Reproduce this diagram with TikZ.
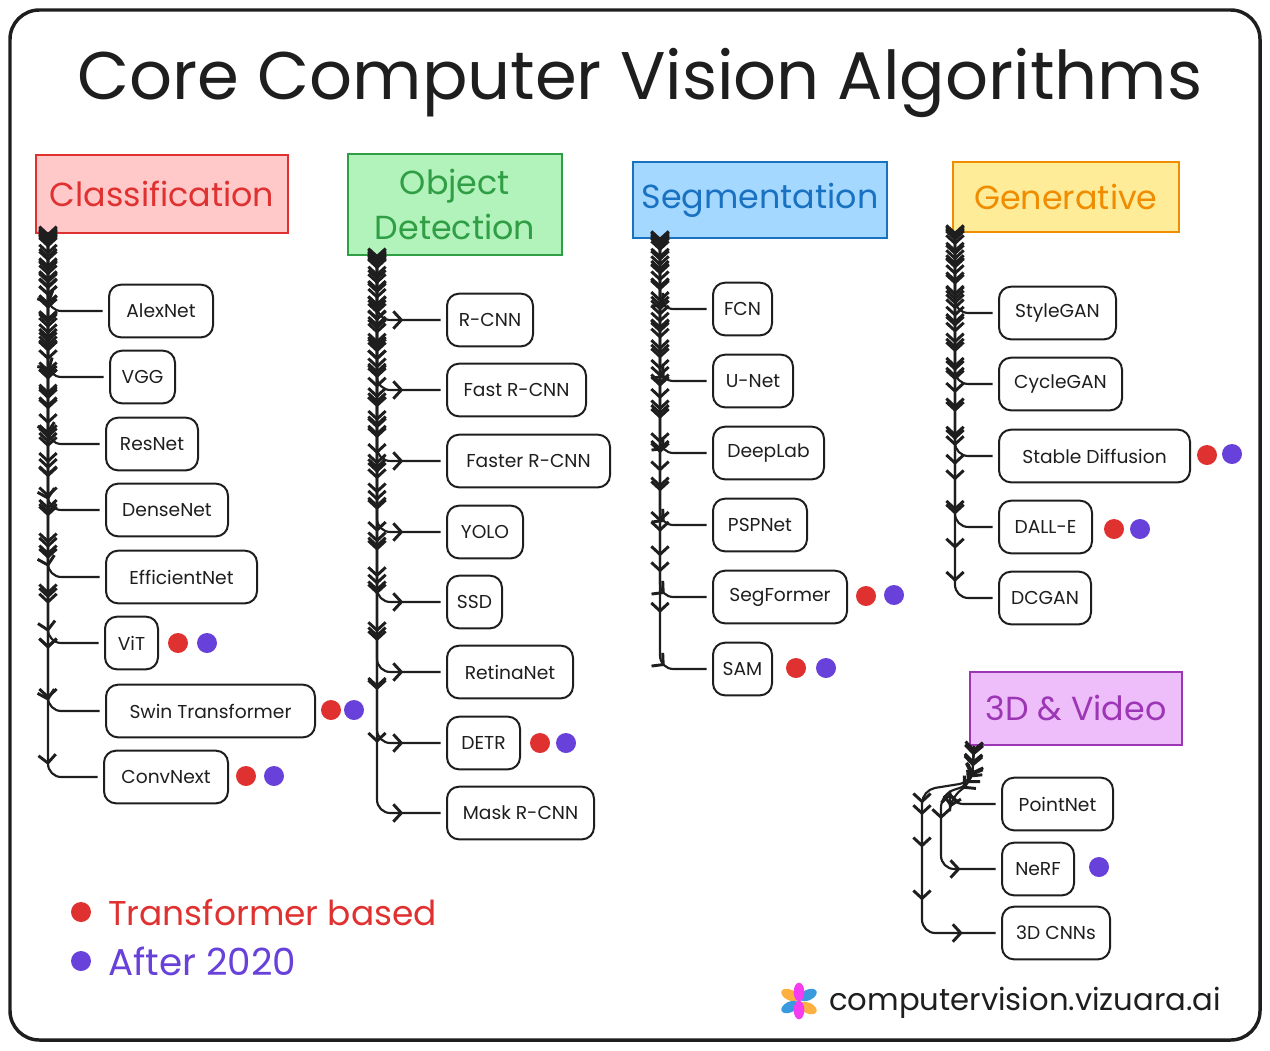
\documentclass[tikz,border=0pt]{standalone}
\usepackage{fontspec}
\setmainfont{Poppins}
\usetikzlibrary{positioning,shapes,arrows.meta,decorations.markings}

\definecolor{inkc}{HTML}{1E1E1E}
\definecolor{redc}{HTML}{E03131}
\definecolor{greenc}{HTML}{2F9E44}
\definecolor{bluec}{HTML}{1971C2}
\definecolor{orangec}{HTML}{F08C00}
\definecolor{violetc}{HTML}{9C36B5}
\definecolor{purplec}{HTML}{6741D9}
\definecolor{redfill}{HTML}{FFC9C9}
\definecolor{greenfill}{HTML}{B2F2BB}
\definecolor{bluefill}{HTML}{A5D8FF}
\definecolor{orangefill}{HTML}{FFEC99}
\definecolor{violetfill}{HTML}{EEBEFA}

\tikzset{
    modelbox/.style={draw=inkc, line width=1.5pt, rounded corners=9pt, minimum height=39.5pt,
        inner sep=0pt, text=inkc, font=\fontsize{14}{16}\selectfont},
    headbox/.style={line width=1.1pt, inner sep=0pt, align=center, font=\fontsize{25}{34}\selectfont},
    dotmark/.style={circle, minimum size=15pt, inner sep=0pt},
    barbs/.style={>={Straight Barb[length=6pt,width=13pt,line width=2.2pt]}},
    linkedge/.style={draw=inkc, line width=1.6pt, rounded corners=10pt, shorten >=4pt, barbs,
        decoration={markings,
            mark=between positions 0.02 and -62pt step 0.085 with {\arrow{>}},
            mark=at position -#1 with {\arrow{>}}},
        postaction={decorate}},
    markat/.style={decoration={markings, mark=at position #1 with {\arrow{>}}}},
    videoedge/.style={draw=inkc, line width=1.6pt, rounded corners=10pt, shorten >=4pt, barbs,
        postaction={decorate}},
    petal/.style={inner sep=0pt, ellipse, minimum width=14pt, minimum height=8pt}
}

\begin{document}
\begin{tikzpicture}[x=0.75pt, y=-0.75pt]
    \useasboundingbox (0,0) rectangle (1270,1050);
    \draw[inkc, line width=2.6pt, rounded corners=22pt] (10,10) rectangle (1260,1040);

    % Title
    \node[text=inkc, font=\fontsize{50.5}{54}\selectfont] (title) at (640,83) {Core Computer Vision Algorithms};

    % Category headers
    \node[headbox, draw=redc, fill=redfill, text=redc, minimum width=189pt, minimum height=58.5pt] (hdrclass) at (162,194) {Classification};
    \node[headbox, draw=greenc, fill=greenfill, text=greenc, minimum width=160.5pt, minimum height=75.75pt] (hdrobject) at (455,204.5) {Object\\Detection};
    \node[headbox, draw=bluec, fill=bluefill, text=bluec, minimum width=190.5pt, minimum height=57pt] (hdrseg) at (760,200) {Segmentation};
    \node[headbox, draw=orangec, fill=orangefill, text=orangec, minimum width=169.5pt, minimum height=52.5pt] (hdrgen) at (1066,197) {Generative};
    \node[headbox, draw=violetc, fill=violetfill, text=violetc, minimum width=159pt, minimum height=54.75pt] (hdrvideo) at (1076,708.5) {3D \& Video};

    % Model boxes
    \foreach \name/\x/\y/\w/\txt in {
        alexnet/161/311/104/AlexNet, vgg/142.5/377/65/VGG, resnet/152/444/92/ResNet,
        densenet/167/510/122/DenseNet, efficientnet/181.5/577/151/EfficientNet, vit/131.5/643/53/ViT,
        swin/210.5/711/209/Swin Transformer, convnext/166/777/124/ConvNext,
        rcnn/490/320/86/R-CNN, fastrcnn/516.5/390/139/Fast R-CNN, fasterrcnn/528.5/461/163/Faster R-CNN,
        yolo/485/532/76/YOLO, ssd/474.5/602/55/SSD, retinanet/510/672/126/RetinaNet,
        detr/483.5/743/73/DETR, maskrcnn/520.5/813/147/Mask R-CNN,
        fcn/742.5/309/59/FCN, unet/753/381/80/U-Net, deeplab/768.5/453/111/DeepLab,
        pspnet/760/525/94/PSPNet, segformer/780/597/134/SegFormer, sam/742.5/669/59/SAM,
        stylegan/1057.5/313/117/StyleGAN, cyclegan/1060.5/384/123/CycleGAN, stablediff/1094.5/456/191/Stable Diffusion,
        dalle/1045.5/527/93/DALL-E, dcgan/1045/598/92/DCGAN,
        pointnet/1057.5/804/111/PointNet, nerf/1038/869/72/NeRF, cnns3d/1056/933/108/3D CNNs} {
        \node[modelbox, minimum width=\w*0.75pt] (\name) at (\x,\y) {\txt};
    }

    % Connectors
    \coordinate (classtop) at (48,234);
    \coordinate (objecttop) at (377,256);
    \coordinate (segtop) at (660,239);
    \coordinate (gentop) at (955,233);
    \coordinate (videotop) at (974,746);
    \foreach \kid in {alexnet,vgg,resnet,densenet,efficientnet,vit,swin,convnext} {
        \draw[linkedge=46pt] (classtop) |- (\kid);
    }
    \foreach \kid in {rcnn,fastrcnn,fasterrcnn,yolo,ssd,retinanet,detr,maskrcnn} {
        \draw[linkedge=32pt] (objecttop) |- (\kid);
    }
    \foreach \kid in {fcn,unet,deeplab,pspnet,segformer,sam} {
        \draw[linkedge=36pt] (segtop) |- (\kid);
    }
    \foreach \kid in {stylegan,cyclegan,stablediff,dalle,dcgan} {
        \draw[linkedge=40pt] (gentop) |- (\kid);
    }
    \draw[videoedge, markat/.list={0.04,0.12,0.2,0.3,0.45,0.6}] (videotop) -- (972,782) -- (950,798) |- (pointnet);
    \draw[videoedge, markat/.list={0.05,0.1,0.15,0.2,0.46,0.79}] (videotop) -- (972,784) -- (941,794) |- (nerf);
    \draw[videoedge, markat/.list={0.03,0.07,0.11,0.31,0.35,0.46,0.64,0.87}] (videotop) -- (972,782) -- (922,790) |- (cnns3d);

    % Transformer and recent markers
    \foreach \name/\x/\y in {vitr/178/643, swinr/331/710, convr/246/776, detrr/540/743, segr/866/596,
        samr/796/668, stabler/1207/455, daller/1114/529, legr/81/912} {
        \node[dotmark, fill=redc] (\name) at (\x,\y) {};
    }
    \foreach \name/\x/\y in {vitp/207/643, swinp/354/710, convp/274/776, detrp/566/743, segp/894/595,
        samp/826/668, stablep/1232/454, dallep/1140/529, nerfp/1099/867, legp/81/961} {
        \node[dotmark, fill=purplec] (\name) at (\x,\y) {};
    }

    % Legend
    \node[anchor=west, inner sep=0pt, text=redc, font=\fontsize{25.8}{30}\selectfont] (legred) at (108,912) {Transformer based};
    \node[anchor=west, inner sep=0pt, text=purplec, font=\fontsize{28}{32}\selectfont] (legpurple) at (108,961) {After 2020};

    % Logo and link
    \foreach \name/\x/\y/\a/\c in {p3/790/995/-25/FBB040, p4/808/1008/-25/FBB040,
        p5/808/995/25/3A9ADE, p6/790/1007/25/3A9ADE, p1/799/992/90/F43DF0, p2/799/1010/90/F43DF0} {
        \definecolor{petalc}{HTML}{\c}
        \node[petal, fill=petalc, rotate=\a] (\name) at (\x,\y) {};
    }
    \node[anchor=west, inner sep=0pt, text=inkc, font=\fontsize{23}{26}\selectfont] (site) at (829,1003) {computervision.vizuara.ai};
\end{tikzpicture}
\end{document}
